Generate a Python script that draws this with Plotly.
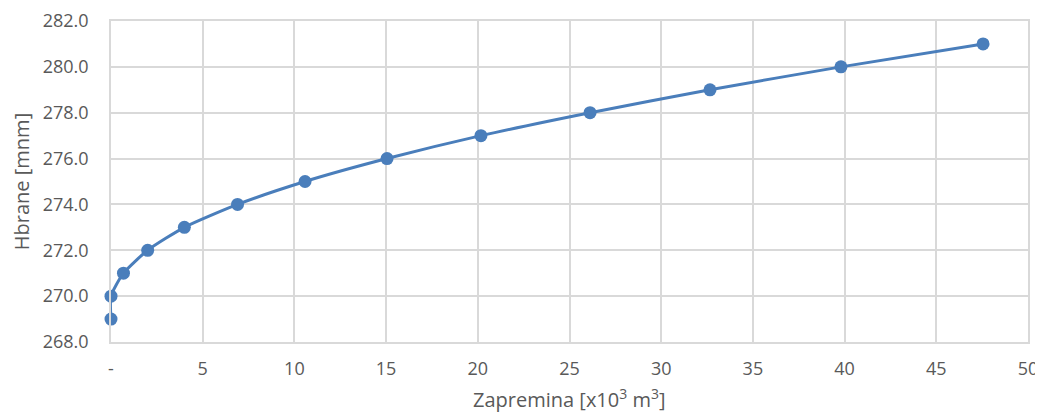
import plotly.graph_objects as go

volume = [0.0, 0.0, 0.68, 2.0, 4.0, 6.9, 10.58, 15.05, 20.17, 26.12, 32.66, 39.8, 47.55]
level = [269, 270, 271, 272, 273, 274, 275, 276, 277, 278, 279, 280, 281]

x_ticks = [0, 5, 10, 15, 20, 25, 30, 35, 40, 45, 50]
x_ticklabels = ["-", "5", "10", "15", "20", "25", "30", "35", "40", "45", "50"]

x_title = "Zapremina [x10<sup>3</sup> m<sup>3</sup>]"
y_title = "Hbrane [mnm]"

blue = "#4A7EBB"
grey = "#595959"
grid = "#D9D9D9"

# page body has an 8px default margin; compensate so plot area lands at x 111..1028, y 21..342
fig = go.Figure()
fig.add_trace(go.Scatter(
    x=volume, y=level, mode="lines+markers",
    line=dict(color=blue, width=3, shape="spline", smoothing=0.6),
    marker=dict(color=blue, size=13),
    cliponaxis=False, showlegend=False,
))

fig.update_layout(
    width=1035, height=409,
    margin=dict(l=103, r=15, t=13, b=75),
    paper_bgcolor="white", plot_bgcolor="white",
    font=dict(family="Open Sans, Liberation Sans, sans-serif", size=18, color=grey),
    xaxis=dict(
        range=[0, 50], tickvals=x_ticks, ticktext=x_ticklabels,
        showgrid=True, gridcolor=grid, gridwidth=1.5,
        showline=True, linecolor=grid, linewidth=1.5, mirror=True,
        zeroline=False, ticks="", ticklabelstandoff=10, automargin=False,
    ),
    yaxis=dict(
        range=[268, 282], dtick=2, tickformat=".1f",
        showgrid=True, gridcolor=grid, gridwidth=1.5,
        showline=True, linecolor=grid, linewidth=1.5, mirror=True,
        zeroline=False, ticks="", ticklabelstandoff=17, automargin=False,
        title=dict(text=y_title, standoff=15, font=dict(size=20, color=grey)),
    ),
    annotations=[dict(
        text=x_title, xref="paper", yref="paper", x=0.5, y=-57 / 321,
        xanchor="center", yanchor="middle", showarrow=False,
        font=dict(size=20, color=grey),
    )],
)

fig.write_html("out.html")
